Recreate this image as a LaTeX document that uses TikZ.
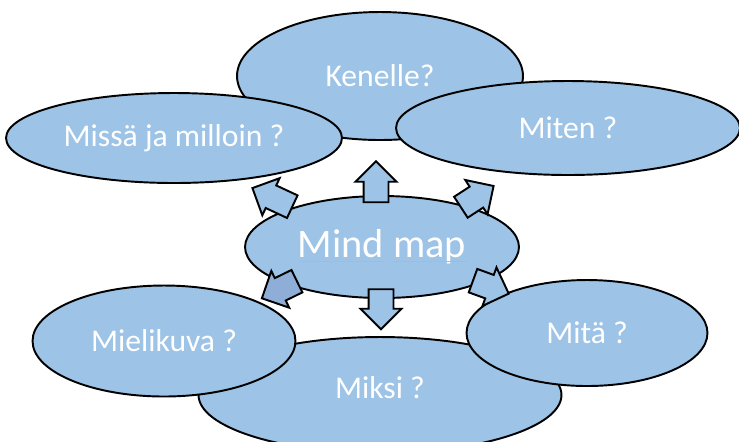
\documentclass[tikz,border=0pt]{standalone}
\usepackage{fontspec}
\setmainfont{Carlito}
\usetikzlibrary{shapes.geometric,shapes.arrows}
\definecolor{bubblefill}{HTML}{9DC3E6}
\definecolor{arrowdark}{HTML}{8EAED8}
\tikzset{
  bubble/.style={ellipse, draw=black, line width=1.1pt, fill=bubblefill, text=white,
    inner sep=0pt, font=\fontsize{18}{20}\selectfont},
  blockarrow/.style={single arrow, draw=black, line width=1.1pt, fill=bubblefill,
    inner xsep=0pt, inner ysep=0.23cm, single arrow head extend=0.16cm,
    single arrow head indent=0pt, minimum height=#1},
  blockarrow/.default=0.8cm
}
\begin{document}
\begin{tikzpicture}[x=0.02cm,y=-0.02cm]
	\clip (0,0) rectangle (739,441);
	% upper ring
	\node[bubble, minimum width=5.72cm, minimum height=2.56cm] (kenelle) at (380,76) {Kenelle?};
	\node[bubble, minimum width=6.72cm, minimum height=1.80cm] (missa) at (174,138) {Missä ja milloin ?};
	\node[bubble, minimum width=6.88cm, minimum height=1.88cm] (miten) at (568,128) {Miten ?};
	% lower ring
	\node[bubble, minimum width=7.26cm, minimum height=2.32cm] (miksi) at (380,395) {};
	\node at (380,388) [text=white, font=\fontsize{18}{20}\selectfont] (miksitext) {Miksi ?};
	\node[bubble, minimum width=5.26cm, minimum height=2.22cm] (mielikuva) at (164,341) {Mielikuva ?};
	\node[bubble, minimum width=4.82cm, minimum height=2.12cm] (mita) at (587,333) {Mitä ?};
	% centre
	\node[bubble, minimum width=5.48cm, minimum height=2.04cm, font=\fontsize{23}{26}\selectfont] (mind) at (382,247) {Mind map};
	\draw[red!40!white, line width=0.3pt] (300,261) -- (385,261) (393,261) -- (467,261);
	% arrows
	\node[blockarrow=0.82cm, rotate=90] (aup) at (376,188) {};
	\node[blockarrow=0.80cm, rotate=-90] (adown) at (381,303) {};
	\node[blockarrow=0.88cm, rotate=155] (aupleft) at (278,200) {};
	\node[blockarrow=0.78cm, rotate=33] (aupright) at (472,200) {};
	\node[blockarrow=0.78cm, rotate=206, fill=arrowdark] (alowleft) at (285,287) {};
	\node[blockarrow=0.76cm, rotate=-20] (alowright) at (485,285) {};
\end{tikzpicture}
\end{document}
